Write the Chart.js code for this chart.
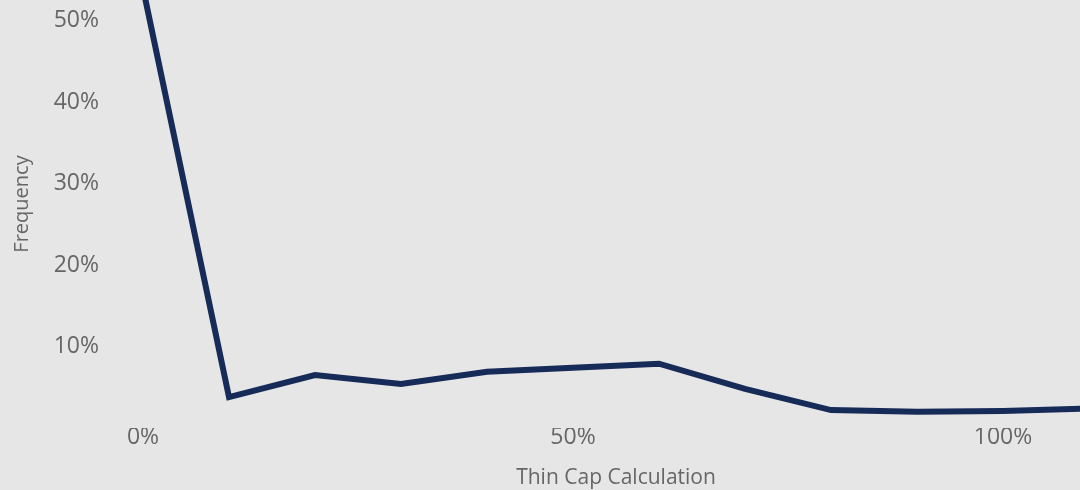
<!DOCTYPE html>
<html><head><meta charset="utf-8">
<script src="https://cdn.jsdelivr.net/npm/chart.js@4"></script>
<style>
html,body{margin:0;padding:0;background:#e6e6e6;overflow:hidden;width:1080px;height:490px;position:relative}
#wrap{position:absolute;left:0;top:-20px;width:1132px;height:510px}
</style></head><body>
<div id="wrap"><canvas id="c"></canvas></div>
<script>
const categories = [0, 0.1, 0.2, 0.3, 0.4, 0.5, 0.6, 0.7, 0.8, 0.9, 1.0, 1.1];
const frequency = [0.54, 0.038, 0.065, 0.054, 0.069, 0.074, 0.079, 0.048, 0.022, 0.020, 0.021, 0.024];
const xTickValues = [0, 0.5, 1.0];
const yTickValues = [0.1, 0.2, 0.3, 0.4, 0.5];
const xTitle = 'Thin Cap Calculation';
const yTitle = 'Frequency';

const FONT = "'Segoe UI', 'Open Sans', sans-serif";
const TXT = '#666666';
const pct = v => Math.round(v * 100) + '%';
const noPad = s => { s.paddingTop = 0; s.paddingBottom = 0; s.paddingLeft = 0; s.paddingRight = 0; };

new Chart(document.getElementById('c'), {
  type: 'line',
  data: {
    datasets: [{
      data: categories.map((x, i) => ({x: x, y: frequency[i]})),
      borderColor: '#172b58',
      borderWidth: 6,
      pointRadius: 0,
      tension: 0,
      fill: false
    }]
  },
  options: {
    responsive: true,
    maintainAspectRatio: false,
    animation: false,
    layout: {padding: 0},
    plugins: {legend: {display: false}, tooltip: {enabled: false}},
    scales: {
      x: {
        type: 'linear', min: -0.05, max: 1.15,
        afterBuildTicks: s => { s.ticks = xTickValues.map(v => ({value: v})); },
        afterFit: s => { s.height = 62; noPad(s); },
        grid: {display: false, drawTicks: false},
        border: {display: false},
        ticks: {color: TXT, font: {family: FONT, size: 23}, padding: -4, callback: pct, maxRotation: 0},
        title: {display: true, text: xTitle, color: TXT, font: {family: FONT, size: 21}, padding: {top: 0, bottom: -1}}
      },
      y: {
        type: 'linear', min: 0, max: 0.55,
        afterBuildTicks: s => { s.ticks = yTickValues.map(v => ({value: v})); },
        afterFit: s => { s.width = 100; noPad(s); },
        grid: {display: false, drawTicks: false},
        border: {display: false},
        ticks: {color: TXT, font: {family: FONT, size: 23}, padding: 1, callback: pct},
        title: {display: true, text: yTitle, color: TXT, font: {family: FONT, size: 20}, padding: {top: 10, bottom: 0}}
      }
    }
  }
});
</script>
</body></html>
